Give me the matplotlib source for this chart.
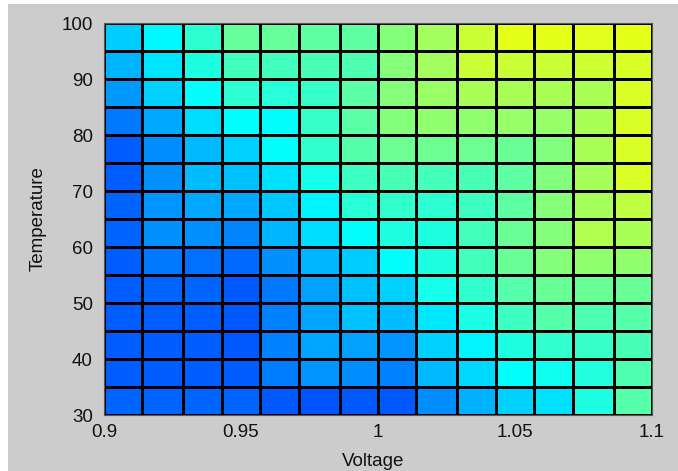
import matplotlib
matplotlib.use('Agg')
import numpy as np
import matplotlib.pyplot as plt
from matplotlib.colors import LinearSegmentedColormap
from matplotlib.patches import Rectangle

# Grid (pcolor style: 15 grid points -> 14 x 14 cells)
voltage = [0.900, 0.914, 0.929, 0.943, 0.957, 0.971, 0.986, 1.000,
           1.014, 1.029, 1.043, 1.057, 1.071, 1.086, 1.100]
temperature = [30, 35, 40, 45, 50, 55, 60, 65, 70, 75, 80, 85, 90, 95, 100]

# Cell levels (position on the jet scale, 0-100), rows from 30 upward
level = [
    [22.3, 22.3, 22.3, 22.3, 21.3, 20.8, 21.3, 21.3, 26.2, 29.7, 33.1, 34.6, 40.4, 45.8],
    [21.8, 21.8, 21.8, 21.8, 24.8, 27.2, 26.2, 25.2, 30.6, 33.6, 37.5, 39.0, 40.9, 45.3],
    [21.8, 21.8, 21.8, 21.3, 25.2, 28.7, 28.2, 27.2, 33.1, 36.5, 40.4, 42.4, 42.9, 44.9],
    [21.8, 21.8, 21.8, 21.3, 25.2, 28.7, 31.6, 31.1, 35.5, 40.0, 43.4, 45.8, 45.3, 45.8],
    [21.8, 22.3, 22.3, 21.3, 24.3, 28.2, 31.6, 33.1, 39.5, 42.4, 45.8, 47.8, 47.8, 47.8],
    [21.8, 24.3, 23.8, 22.8, 26.7, 30.1, 32.6, 37.5, 40.4, 43.9, 47.8, 50.7, 51.7, 51.7],
    [22.3, 26.7, 26.7, 25.7, 30.1, 34.1, 37.5, 40.4, 40.4, 43.9, 47.8, 50.7, 54.7, 54.2],
    [22.3, 27.2, 29.2, 29.2, 32.1, 36.5, 41.5, 42.4, 41.9, 43.4, 46.8, 50.7, 53.7, 56.1],
    [21.8, 26.7, 31.1, 31.6, 34.6, 39.5, 43.5, 44.9, 44.4, 44.9, 46.8, 50.2, 53.7, 58.6],
    [21.8, 26.2, 30.6, 33.1, 37.5, 42.4, 45.8, 48.3, 48.3, 48.3, 47.8, 50.2, 54.2, 58.6],
    [24.3, 29.2, 34.1, 37.5, 37.5, 42.9, 46.3, 50.7, 51.7, 51.7, 52.2, 52.2, 54.2, 58.6],
    [27.7, 33.1, 37.5, 41.9, 41.4, 42.9, 46.3, 50.7, 52.7, 54.2, 54.2, 54.2, 54.2, 58.6],
    [30.1, 35.0, 40.4, 43.9, 43.9, 44.9, 45.3, 50.7, 53.2, 57.1, 57.1, 57.1, 57.6, 58.6],
    [32.6, 37.0, 41.9, 47.3, 47.3, 46.8, 46.8, 50.7, 53.2, 57.1, 60.0, 60.0, 59.6, 60.0],
]

xticks = [0.9, 0.95, 1.0, 1.05, 1.1]
xticklabels = ['0.9', '0.95', '1', '1.05', '1.1']
yticks = [30, 40, 50, 60, 70, 80, 90, 100]

# MATLAB-like jet
jet = LinearSegmentedColormap.from_list('mjet', [
    (0.0, (0, 0, 0.5)), (0.125, (0, 0, 1)), (0.375, (0, 1, 1)),
    (0.625, (1, 1, 0)), (0.875, (1, 0, 0)), (1.0, (0.5, 0, 0))])

plt.rcParams['font.family'] = ['Liberation Sans', 'DejaVu Sans']

fig = plt.figure(figsize=(6.78, 4.71), dpi=100, facecolor='white')
# grey figure area (the reference is a cropped MATLAB window)
fig.patches.append(Rectangle((8 / 678, 0), 1, 1 - 4 / 471, transform=fig.transFigure,
                             facecolor='#cccccc', edgecolor='none', zorder=-10))

ax = fig.add_axes([104 / 678, 56 / 471, 548 / 678, 392 / 471])
ax.pcolormesh(voltage, temperature, np.array(level), cmap=jet, vmin=0, vmax=100,
              shading='flat', edgecolors='black', linewidth=1.0)

ax.set_xlim(0.9, 1.1)
ax.set_ylim(30, 100)
ax.set_xticks(xticks)
ax.set_xticklabels(xticklabels)
ax.set_yticks(yticks)
ax.tick_params(axis='both', length=0, labelsize=13.5, colors='#111111')
ax.tick_params(axis='x', pad=6.5)
ax.tick_params(axis='y', pad=8)
for sp in ax.spines.values():
    sp.set_color('#555555')
    sp.set_linewidth(0.8)

ax.set_xlabel('Voltage', fontsize=13.5, color='#111111', va='top')
ax.xaxis.set_label_coords(0.491, -0.098)
ax.set_ylabel('Temperature', fontsize=13.5, color='#111111')
ax.yaxis.set_label_coords(-0.104, 0.5)

fig.savefig('out.png', dpi=100, facecolor=fig.get_facecolor())
